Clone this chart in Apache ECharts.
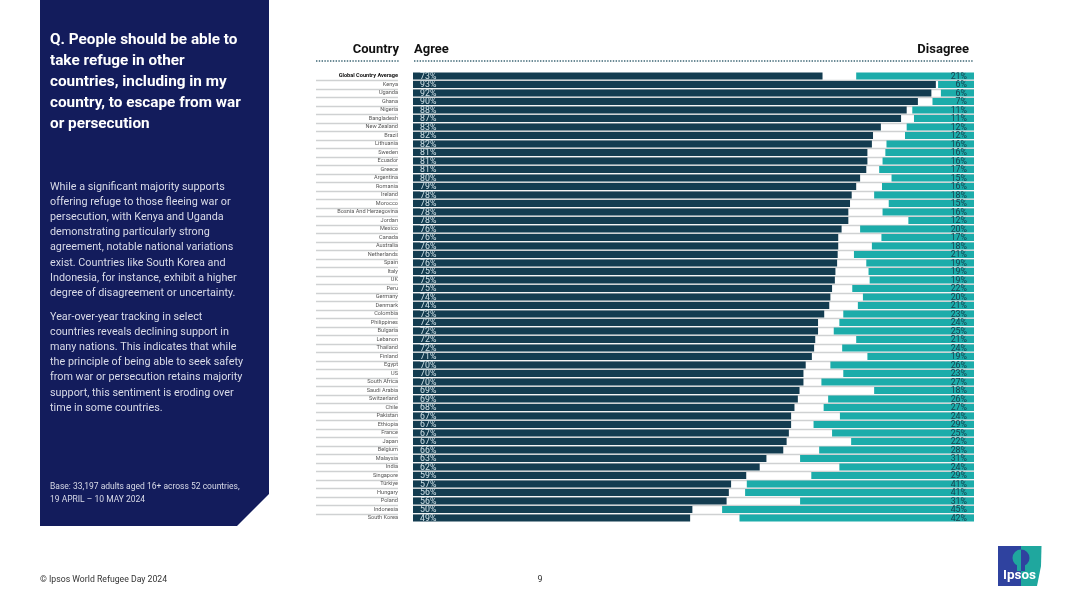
<!DOCTYPE html>
<html>
<head>
<meta charset="utf-8">
<script src="https://cdn.jsdelivr.net/npm/echarts@6/dist/echarts.min.js"></script>
<style>
html, body { margin: 0; padding: 0; background: #fff; }
#chart { width: 1080px; height: 607px; }
</style>
</head>
<body>
<div id="chart"></div>
<script>
// 国家列表，从上到下
const countries = ['Global Country Average', 'Kenya', 'Uganda', 'Ghana', 'Nigeria', 'Bangladesh', 'New Zealand', 'Brazil',
    'Lithuania', 'Sweden', 'Ecuador', 'Greece', 'Argentina', 'Romania', 'Ireland', 'Morocco', 'Bosnia And Herzegovina',
    'Jordan', 'Mexico', 'Canada', 'Australia', 'Netherlands', 'Spain', 'Italy', 'UK', 'Peru', 'Germany', 'Denmark',
    'Colombia', 'Philippines', 'Bulgaria', 'Lebanon', 'Thailand', 'Finland', 'Egypt', 'US', 'South Africa', 'Saudi Arabia',
    'Switzerland', 'Chile', 'Pakistan', 'Ethiopia', 'France', 'Japan', 'Belgium', 'Malaysia', 'India', 'Singapore',
    'Türkiye', 'Hungary', 'Poland', 'Indonesia', 'South Korea'];
// 条形长度读出来带小数，标签取整
const agree = [73, 93.2, 92.4, 90, 88, 87, 83.4, 82, 81.8, 81, 81, 80.8, 79.7, 79, 78.2,
    77.9, 77.6, 77.6, 76.4, 75.8, 75.8, 75.7, 75.6, 75.3, 75.2, 74.7, 74.4, 74.2, 73.3, 72.2, 72.2, 71.7, 71.5, 71.1,
    70, 69.6, 69.6, 68.9, 68.6, 68, 67.4, 67.4, 67, 66.6, 66, 63, 61.8, 59.4, 56.7, 56.3, 55.9, 49.8, 49.4];
const disagree = [21, 6.4, 5.9, 7.4, 11, 10.7, 12, 12.3, 15.6, 15.8, 16.3, 16.9, 14.7, 16.4, 17.8,
    15.2, 16.3, 11.7, 20.3, 16.5, 18.2, 21.4, 19.2, 18.8, 18.6, 21.7, 19.8, 20.7, 23.3, 24, 25, 21, 23.5, 19,
    25.6, 23.3, 27.2, 17.8, 26, 26.8, 23.9, 28.6, 25.3, 21.9, 27.6, 31, 24, 29, 40.5, 40.8, 31, 44.9, 41.8];
const panelTitle = ['Q. People should be able to', 'take refuge in other', 'countries, including in my', 'country, to escape from war', 'or persecution'];
const panelBody = ['While a significant majority supports', 'offering refuge to those fleeing war or', 'persecution, with Kenya and Uganda',
    'demonstrating particularly strong', 'agreement, notable national variations', 'exist. Countries like South Korea and',
    'Indonesia, for instance, exhibit a higher', 'degree of disagreement or uncertainty.'];
const panelBody2 = ['Year-over-year tracking in select', 'countries reveals declining support in', 'many nations. This indicates that while',
    'the principle of being able to seek safety', 'from war or persecution retains majority', 'support, this sentiment is eroding over', 'time in some countries.'];
const panelBase = ['Base: 33,197 adults aged 16+ across 52 countries,', '19 APRIL – 10 MAY 2024'];

const FONT = 'Roboto';

function textLines(lines, x, y, step, style) {
    return lines.map((t, i) => ({
        type: 'text', x: x, y: y + i * step,
        style: Object.assign({ text: t, fontFamily: FONT, verticalAlign: 'middle' }, style)
    }));
}

function dotted(x1, x2, y) {
    return {
        type: 'line', shape: { x1: x1, y1: y, x2: x2, y2: y },
        style: { stroke: '#3d6674', lineWidth: 1.4, lineDash: [1.4, 1.4] }
    };
}

const graphics = [
    // 左侧深蓝面板
    { type: 'polygon', shape: { points: [[40, 0], [269, 0], [269, 494], [237, 526], [40, 526]] }, style: { fill: '#131c5c' } },
    ...textLines(panelTitle, 50, 40, 21.1, { fill: '#fff', fontSize: 15.3, fontWeight: 'bold' }),
    ...textLines(panelBody, 50, 187, 15.2, { fill: '#d9dbe8', fontSize: 10.8 }),
    ...textLines(panelBody2, 50, 317, 15.2, { fill: '#d9dbe8', fontSize: 10.8 }),
    ...textLines(panelBase, 50, 487, 13, { fill: '#d9dbe8', fontSize: 8.5 }),
    // 表头
    { type: 'text', x: 399, y: 50, style: { text: 'Country', fontFamily: FONT, fontSize: 13, fontWeight: 'bold', fill: '#111', align: 'right', verticalAlign: 'middle' } },
    { type: 'text', x: 414, y: 50, style: { text: 'Agree', fontFamily: FONT, fontSize: 13, fontWeight: 'bold', fill: '#111', verticalAlign: 'middle' } },
    { type: 'text', x: 969, y: 50, style: { text: 'Disagree', fontFamily: FONT, fontSize: 13, fontWeight: 'bold', fill: '#111', align: 'right', verticalAlign: 'middle' } },
    dotted(316, 399, 61),
    dotted(414, 973, 61),
    // 页脚
    { type: 'text', x: 40, y: 580, style: { text: '© Ipsos World Refugee Day 2024', fontFamily: FONT, fontSize: 8.7, fill: '#333', verticalAlign: 'middle' } },
    { type: 'text', x: 540, y: 580, style: { text: '9', fontFamily: FONT, fontSize: 9, fill: '#333', align: 'center', verticalAlign: 'middle' } },
    // logo
    { type: 'rect', shape: { x: 998, y: 546, width: 23, height: 40 }, style: { fill: '#2f429f' } },
    { type: 'polygon', shape: { points: [[1021, 546], [1041.5, 546], [1041, 566], [1037, 586], [1021, 586]] }, style: { fill: '#1fa79e' } },
    { type: 'sector', shape: { cx: 1021, cy: 558, r: 8.5, startAngle: Math.PI / 2, endAngle: Math.PI * 1.5 }, style: { fill: '#1fa79e' } },
    { type: 'sector', shape: { cx: 1021, cy: 558, r: 8.5, startAngle: -Math.PI / 2, endAngle: Math.PI / 2 }, style: { fill: '#2f429f' } },
    { type: 'rect', shape: { x: 1017, y: 564, width: 4, height: 7 }, style: { fill: '#1fa79e' } },
    { type: 'rect', shape: { x: 1021, y: 564, width: 4, height: 7 }, style: { fill: '#2f429f' } },
    { type: 'text', x: 1019.5, y: 576, style: { text: 'Ipsos', fontFamily: FONT, fontSize: 13.5, fontWeight: 'bold', fill: '#fff', align: 'center', verticalAlign: 'middle' } }
];

const GRID_TOP = 71.75, GRID_H = 450.5;
const splitStyle = { color: '#cfd1d2', width: 1.4 };

const myChart = echarts.init(document.getElementById('chart'), null, { renderer: 'canvas' });
myChart.setOption({
    animation: false,
    backgroundColor: '#fff',
    textStyle: { fontFamily: FONT },
    graphic: { elements: graphics },
    grid: [
        { left: 413, top: GRID_TOP, width: 561, height: GRID_H },
        { left: 316, top: GRID_TOP, width: 82, height: GRID_H }
    ],
    xAxis: [
        { type: 'value', gridIndex: 0, min: 0, max: 100, show: false },
        { type: 'value', gridIndex: 0, min: 0, max: 100, inverse: true, show: false },
        { type: 'value', gridIndex: 1, min: 0, max: 100, show: false }
    ],
    yAxis: [
        {
            type: 'category', gridIndex: 0, inverse: true, data: countries,
            axisLine: { show: false }, axisTick: { show: false }, axisLabel: { show: false },
            splitLine: { show: true, interval: 0, showMinLine: false, showMaxLine: false, lineStyle: splitStyle }
        },
        {
            // 左边的国家名，用单独的 grid 画分隔线
            type: 'category', gridIndex: 1, inverse: true, position: 'right',
            data: countries.map((c, i) => i === 0
                ? { value: c, textStyle: { fontWeight: 'bold', color: '#111' } }
                : c),
            axisLine: { show: false }, axisTick: { show: false },
            axisLabel: { inside: true, margin: 0, interval: 0, fontSize: 5.6, color: '#555', fontFamily: FONT },
            splitLine: { show: true, interval: 0, showMinLine: false, showMaxLine: false, lineStyle: splitStyle }
        }
    ],
    series: [
        {
            name: 'Agree', type: 'bar', xAxisIndex: 0, yAxisIndex: 0, data: agree,
            barWidth: 7, barGap: '-100%',
            itemStyle: { color: '#133c50' },
            label: {
                show: true, position: 'insideLeft', distance: 7, offset: [0, 0.5], fontSize: 8.8,
                color: '#cfe0e6', formatter: (p) => Math.round(p.value) + '%'
            }
        },
        {
            name: 'Disagree', type: 'bar', xAxisIndex: 1, yAxisIndex: 0, data: disagree,
            barWidth: 7, barGap: '-100%',
            itemStyle: { color: '#1cacaa' },
            label: {
                show: true, position: 'insideRight', distance: 7, offset: [0, 0.5], fontSize: 8.8,
                color: '#17404e', formatter: (p) => Math.round(p.value) + '%'
            }
        }
    ]
});
</script>
</body>
</html>
